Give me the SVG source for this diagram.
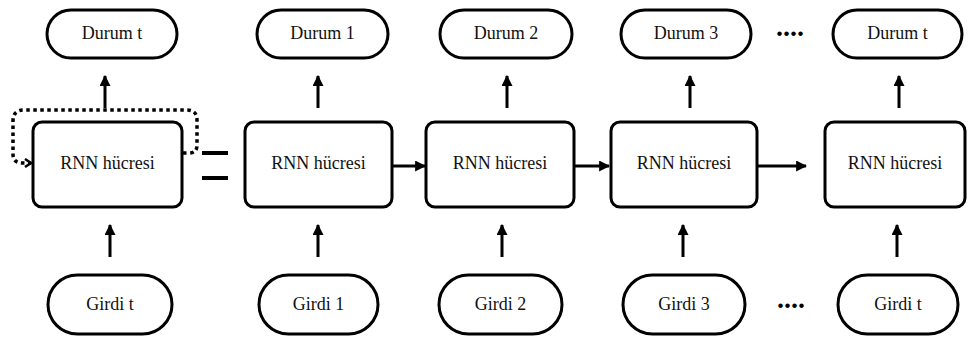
<svg xmlns="http://www.w3.org/2000/svg" width="970" height="338" viewBox="0 0 970 338">
  <style>
    .pill { fill: #fff; stroke: #000; stroke-width: 3; }
    .cell { fill: #fff; stroke: #000; stroke-width: 3; }
    .lbl { font-family: 'Liberation Serif', Tinos, 'Times New Roman', 'DejaVu Serif', serif; font-size: 18px; fill: #111; text-anchor: middle; }
    .dots { font-family: 'Liberation Serif', Tinos, 'Times New Roman', 'DejaVu Serif', serif; font-size: 28px; font-weight: bold; fill: #000; text-anchor: middle; }
    .edge { stroke: #000; stroke-width: 3; fill: none; }
    .loop { stroke: #000; stroke-width: 3.5; fill: none; stroke-dasharray: 3.5 3.5; }
  </style>
  <defs>
    <marker id="head" viewBox="0 0 10 10" refX="9" refY="5" markerWidth="11" markerHeight="11" markerUnits="userSpaceOnUse" orient="auto">
      <path d="M0,0 L10,5 L0,10 Z" fill="#000"/>
    </marker>
    <marker id="chevron" viewBox="0 0 10 10" refX="8" refY="5" markerWidth="10" markerHeight="10" markerUnits="userSpaceOnUse" orient="auto">
      <path d="M2,1 L8,5 L2,9" fill="none" stroke="#000" stroke-width="2.5"/>
    </marker>
  </defs>

  <!-- output states -->
  <g id="durum-t0"><rect class="pill" x="47" y="10" width="130" height="48" rx="24"/><text class="lbl" x="112" y="39">Durum t</text></g>
  <g id="durum-1"><rect class="pill" x="257" y="10" width="131" height="48" rx="24"/><text class="lbl" x="322.5" y="39">Durum 1</text></g>
  <g id="durum-2"><rect class="pill" x="440" y="10" width="132" height="48" rx="24"/><text class="lbl" x="506" y="39">Durum 2</text></g>
  <g id="durum-3"><rect class="pill" x="621" y="10" width="130" height="48" rx="24"/><text class="lbl" x="686" y="39">Durum 3</text></g>
  <g id="durum-t"><rect class="pill" x="833" y="10" width="129" height="48" rx="24"/><text class="lbl" x="897.5" y="39">Durum t</text></g>
  <g id="dots-top"><text class="dots" x="790" y="36">....</text></g>

  <!-- RNN cells -->
  <g id="cell-0"><rect class="cell" x="33" y="122" width="149" height="85" rx="9"/><text class="lbl" x="107.5" y="169">RNN hücresi</text></g>
  <g id="cell-1"><rect class="cell" x="245" y="122" width="147" height="85" rx="9"/><text class="lbl" x="318.5" y="169">RNN hücresi</text></g>
  <g id="cell-2"><rect class="cell" x="426" y="122" width="148" height="85" rx="9"/><text class="lbl" x="500" y="169">RNN hücresi</text></g>
  <g id="cell-3"><rect class="cell" x="611" y="122" width="146" height="85" rx="9"/><text class="lbl" x="684" y="169">RNN hücresi</text></g>
  <g id="cell-t"><rect class="cell" x="825" y="122" width="140" height="85" rx="9"/><text class="lbl" x="895" y="169">RNN hücresi</text></g>

  <!-- equals sign -->
  <g id="equals">
    <line x1="202" y1="153" x2="228" y2="153" stroke="#000" stroke-width="4"/>
    <line x1="202" y1="178" x2="228" y2="178" stroke="#000" stroke-width="4"/>
  </g>

  <!-- inputs -->
  <g id="girdi-t0"><rect class="pill" x="48" y="275" width="124" height="59" rx="29.5"/><text class="lbl" x="110" y="310">Girdi t</text></g>
  <g id="girdi-1"><rect class="pill" x="259" y="275" width="119" height="59" rx="29.5"/><text class="lbl" x="318.5" y="310">Girdi 1</text></g>
  <g id="girdi-2"><rect class="pill" x="439" y="275" width="123" height="59" rx="29.5"/><text class="lbl" x="500.5" y="310">Girdi 2</text></g>
  <g id="girdi-3"><rect class="pill" x="623" y="275" width="122" height="59" rx="29.5"/><text class="lbl" x="684" y="310">Girdi 3</text></g>
  <g id="girdi-t"><rect class="pill" x="838" y="275" width="120" height="59" rx="29.5"/><text class="lbl" x="898" y="310">Girdi t</text></g>
  <g id="dots-bottom"><text class="dots" x="791" y="308">....</text></g>

  <!-- connectors -->
  <g id="connectors">
    <!-- cell to state -->
    <line class="edge" x1="105" y1="108" x2="105" y2="76" marker-end="url(#head)"/>
    <line class="edge" x1="318" y1="108" x2="318" y2="76" marker-end="url(#head)"/>
    <line class="edge" x1="507" y1="108" x2="507" y2="76" marker-end="url(#head)"/>
    <line class="edge" x1="690" y1="108" x2="690" y2="76" marker-end="url(#head)"/>
    <line class="edge" x1="899" y1="108" x2="899" y2="76" marker-end="url(#head)"/>
    <!-- input to cell -->
    <line class="edge" x1="110" y1="257" x2="110" y2="225" marker-end="url(#head)"/>
    <line class="edge" x1="318" y1="257" x2="318" y2="225" marker-end="url(#head)"/>
    <line class="edge" x1="502" y1="257" x2="502" y2="225" marker-end="url(#head)"/>
    <line class="edge" x1="683" y1="257" x2="683" y2="225" marker-end="url(#head)"/>
    <line class="edge" x1="897" y1="257" x2="897" y2="225" marker-end="url(#head)"/>
    <!-- cell to cell -->
    <line class="edge" x1="392" y1="166" x2="425" y2="166" marker-end="url(#head)"/>
    <line class="edge" x1="574" y1="166" x2="609" y2="166" marker-end="url(#head)"/>
    <line class="edge" x1="757" y1="166" x2="806" y2="166" marker-end="url(#head)"/>
    <!-- recurrent loop -->
    <path class="loop" d="M183,153 H189 Q197,153 197,145 V120 Q197,110 187,110 H24 Q13,110 13,121 V154 Q13,163 22,163 H31" marker-end="url(#chevron)"/>
  </g>
</svg>
